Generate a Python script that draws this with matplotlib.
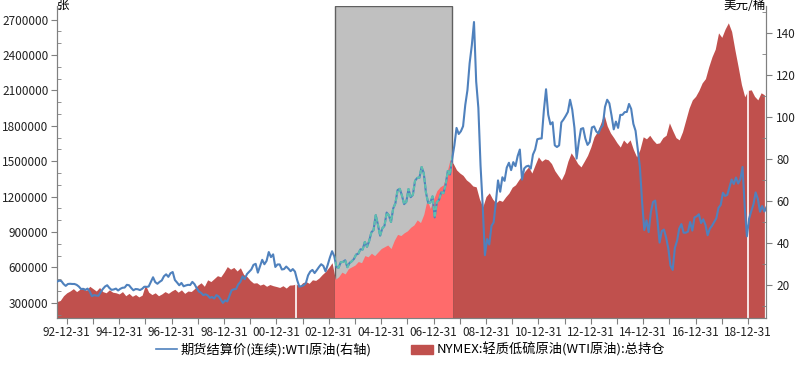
import numpy as np
import matplotlib
matplotlib.use('Agg')
import matplotlib.pyplot as plt
from matplotlib.lines import Line2D
from matplotlib.patches import Patch

plt.rcParams['font.family'] = ['Noto Sans CJK SC', 'DejaVu Sans']
plt.rcParams['font.size'] = 9

# WTI continuous settlement price, monthly, Aug 1992 .. Sep 2019 (USD/bbl)
wti_start = 1992 + 7 / 12
wti_price = [
    21.4, 21.9, 21.7, 20.3, 19.4,
    20.3, 20.4, 20.3, 20.3, 19.9, 19.1, 17.9, 18.0, 17.5, 18.1, 16.7, 14.5,
    15.0, 14.8, 14.7, 16.4, 17.9, 19.1, 19.7, 18.4, 17.5, 17.7, 18.1, 17.2,
    18.0, 18.5, 18.6, 19.9, 19.7, 18.4, 17.3, 17.9, 17.8, 17.4, 18.0, 19.0,
    18.9, 19.1, 21.3, 23.5, 21.2, 20.4, 21.3, 22.0, 24.0, 24.9, 23.7, 25.4,
    26.0, 22.2, 21.0, 19.7, 20.8, 19.2, 19.6, 19.9, 19.8, 21.3, 20.2, 18.3,
    16.7, 16.1, 15.0, 15.4, 14.9, 13.7, 14.1, 13.4, 15.0, 14.4, 12.9, 11.3,
    12.5, 12.0, 14.7, 17.3, 17.8, 17.9, 20.1, 21.3, 23.9, 22.6, 25.0, 26.1,
    27.2, 29.4, 29.9, 25.7, 28.8, 31.8, 29.7, 31.3, 35.5, 33.1, 34.4, 28.4,
    29.6, 29.6, 27.2, 27.4, 28.6, 27.6, 26.4, 27.4, 26.2, 22.2, 19.0, 19.3,
    19.7, 20.7, 24.4, 26.2, 27.0, 25.5, 26.9, 28.4, 29.7, 28.9, 26.3, 29.4,
    32.9, 35.9, 33.5, 28.3, 28.1, 30.7, 30.8, 31.6, 28.3, 30.3, 31.1, 32.2,
    34.3, 34.7, 36.8, 36.7, 40.3, 38.0, 40.8, 44.9, 46.0, 53.1, 48.5, 43.3,
    46.8, 48.0, 54.3, 53.0, 49.8, 56.3, 58.7, 65.0, 65.6, 62.4, 58.3, 59.4,
    65.5, 61.6, 62.7, 69.4, 70.8, 70.9, 76.0, 73.0, 63.8, 58.9, 59.1, 62.0,
    52.0, 59.3, 60.4, 63.9, 63.5, 67.5, 74.1, 72.4, 79.9, 86.2, 94.6, 91.7,
    93.0, 95.4, 105.5, 112.6, 125.4, 133.9, 145.0, 116.7, 104.1, 76.6, 57.3, 34.0,
    41.7, 39.1, 47.9, 49.6, 59.0, 69.6, 64.2, 71.1, 69.4, 75.7, 78.0, 74.5,
    78.3, 76.4, 81.2, 84.3, 70.0, 75.3, 76.3, 76.6, 75.2, 81.9, 84.3, 89.2,
    89.5, 89.6, 102.9, 113.0, 100.9, 96.3, 97.3, 86.3, 85.5, 86.3, 97.2, 98.6,
    100.3, 102.2, 108.0, 103.3, 94.7, 80.0, 87.9, 94.1, 94.5, 89.5, 86.5, 87.9,
    94.8, 95.3, 92.9, 92.0, 94.5, 95.8, 104.6, 108.0, 106.3, 100.5, 93.9, 97.6,
    94.6, 100.8, 100.8, 102.1, 102.2, 106.0, 103.6, 96.5, 93.2, 84.4, 75.8, 59.3,
    46.0, 50.6, 45.0, 54.5, 59.3, 60.0, 50.9, 40.0, 45.5, 46.2, 42.4, 37.2,
    29.0, 27.0, 37.5, 40.8, 46.7, 48.8, 44.7, 44.7, 45.2, 49.8, 45.7, 52.0,
    52.5, 53.5, 49.3, 51.1, 48.5, 43.5, 46.6, 48.0, 49.8, 51.6, 56.6, 57.9,
    63.7, 62.2, 62.7, 66.3, 70.0, 67.9, 71.0, 68.1, 70.2, 76.0, 57.0, 43.0,
    51.4, 55.0, 58.2, 63.9, 60.8, 54.7, 57.4, 54.8, 57.0,
]

# NYMEX WTI total open interest (thousand contracts), every 1/8 year from 1992.625
oi_start = 1992.625
oi_k = [
    310, 320, 360,
    385, 400, 420, 395, 415, 430, 405, 440,
    420, 400, 430, 395, 385, 410, 390, 385,
    375, 395, 360, 380, 355, 370, 350, 365,
    452, 390, 370, 385, 360, 375, 395, 380,
    400, 415, 390, 410, 380, 400, 396, 420,
    450, 470, 440, 495, 480, 505, 530, 520,
    560, 607, 585, 600, 570, 597, 540, 523,
    490, 467, 470, 450, 460, 440, 455, 445,
    438, 430, 445, 425, 450, 452, 460, 440,
    470, 480, 465, 495, 490, 510, 540, 565,
    600, 640, 500, 520, 560, 545, 590, 605,
    620, 650, 640, 700, 690, 720, 700, 730,
    760, 775, 790, 760, 830, 880, 870, 893,
    910, 940, 960, 1003, 980, 1050, 1173, 1100,
    1180, 1250, 1283, 1300, 1400, 1512, 1480, 1427,
    1400, 1380, 1342, 1320, 1290, 1283, 1180, 1113,
    1200, 1232, 1180, 1147, 1170, 1160, 1198, 1230,
    1280, 1300, 1342, 1380, 1420, 1452, 1400, 1470,
    1537, 1500, 1520, 1512, 1480, 1420, 1380, 1342,
    1400, 1500, 1571, 1530, 1480, 1452, 1500, 1550,
    1620, 1707, 1750, 1820, 1900, 1800, 1740, 1700,
    1656, 1620, 1680, 1650, 1681, 1600, 1537, 1600,
    1707, 1690, 1720, 1680, 1650, 1656, 1700, 1720,
    1825, 1760, 1700, 1681, 1750, 1850, 1950, 2020,
    2050, 2100, 2164, 2200, 2300, 2385, 2450, 2588,
    2550, 2620, 2673, 2600, 2444, 2300, 2150, 2046,
    2100, 2105, 2050, 2020, 2080, 2063,
]
gap_dates = [2001.74, 2018.99]          # missing days show as white gaps
highlight = (2003.23, 2007.69)          # grey selection box

red = '#c0504d'
red_light = '#ff6b6b'
blue = '#4f81bd'
teal = '#5fbfae'
axis_grey = '#808080'

wti_dates = wti_start + (np.arange(len(wti_price)) + 0.5) / 12
oi_dates = oi_start + np.arange(len(oi_k)) / 8
oi_values = np.array(oi_k) * 1000.0

fig = plt.figure(figsize=(8, 3.65), dpi=100)
ax = fig.add_axes([0.071, 0.129, 0.8865, 0.855])
ax2 = ax.twinx()

y0 = 172000
ax.fill_between(oi_dates, y0, oi_values, color=red, lw=0, zorder=1)
span = ax.axvspan(*highlight, facecolor='#c0c0c0', edgecolor='#606060', lw=1, zorder=2)
light = ax.fill_between(oi_dates, y0, oi_values, color=red_light, lw=0, zorder=3)
light.set_clip_path(span)
ax.vlines(gap_dates, y0, np.interp(gap_dates, oi_dates, oi_values), color='white', lw=1.2, zorder=4)

ax2.plot(wti_dates, wti_price, color=blue, lw=1.5, zorder=5)
t, = ax2.plot(wti_dates, wti_price, color=teal, lw=1.5, ls=(0, (2, 1)), zorder=6)
t.set_clip_path(span)

ax.set_xlim(1992.618, 2019.687)
ax.set_ylim(y0, 2817000)
ax2.set_ylim(4.15, 152.7)

years = np.arange(1993, 2020)
ax.set_xticks(years)
ax.set_xticklabels(['%02d-12-31' % ((y - 1) % 100) if (y - 1993) % 2 == 0 else '' for y in years])
ax.set_yticks(np.arange(300000, 2700001, 300000))
ax.set_yticks(np.arange(200000, 2800001, 100000), minor=True)
ax.yaxis.set_major_formatter(matplotlib.ticker.FuncFormatter(lambda v, p: '%d' % v))
ax2.set_yticks(np.arange(20, 141, 20))
ax2.set_yticks(np.arange(10, 151, 10), minor=True)

for a in (ax, ax2):
    for s in a.spines.values():
        s.set_color(axis_grey)
    a.spines['top'].set_visible(False)
    a.tick_params(which='major', color=axis_grey, length=4, labelsize=8.5, labelcolor='#222222')
    a.tick_params(axis='y', which='minor', color=axis_grey, length=3, direction='in')
ax.tick_params(axis='x', pad=2)
ax.tick_params(axis='y', pad=2)

ax.text(0.0, 1.0, '张', transform=ax.transAxes, ha='left', va='center', fontsize=9)
ax2.text(1.0, 1.0, '美元/桶', transform=ax2.transAxes, ha='right', va='center', fontsize=9)

handles = [Line2D([0], [0], color=blue, lw=1.2),
           Patch(facecolor=red, edgecolor=red)]
labels = ['期货结算价(连续):WTI原油(右轴)', 'NYMEX:轻质低硫原油(WTI原油):总持仓']
fig.legend(handles, labels, loc='lower center', bbox_to_anchor=(0.513, -0.01), ncol=2,
           frameon=False, fontsize=9.5, columnspacing=3.0, handlelength=1.6, handletextpad=0.3)

fig.savefig('out.png', dpi=100)
